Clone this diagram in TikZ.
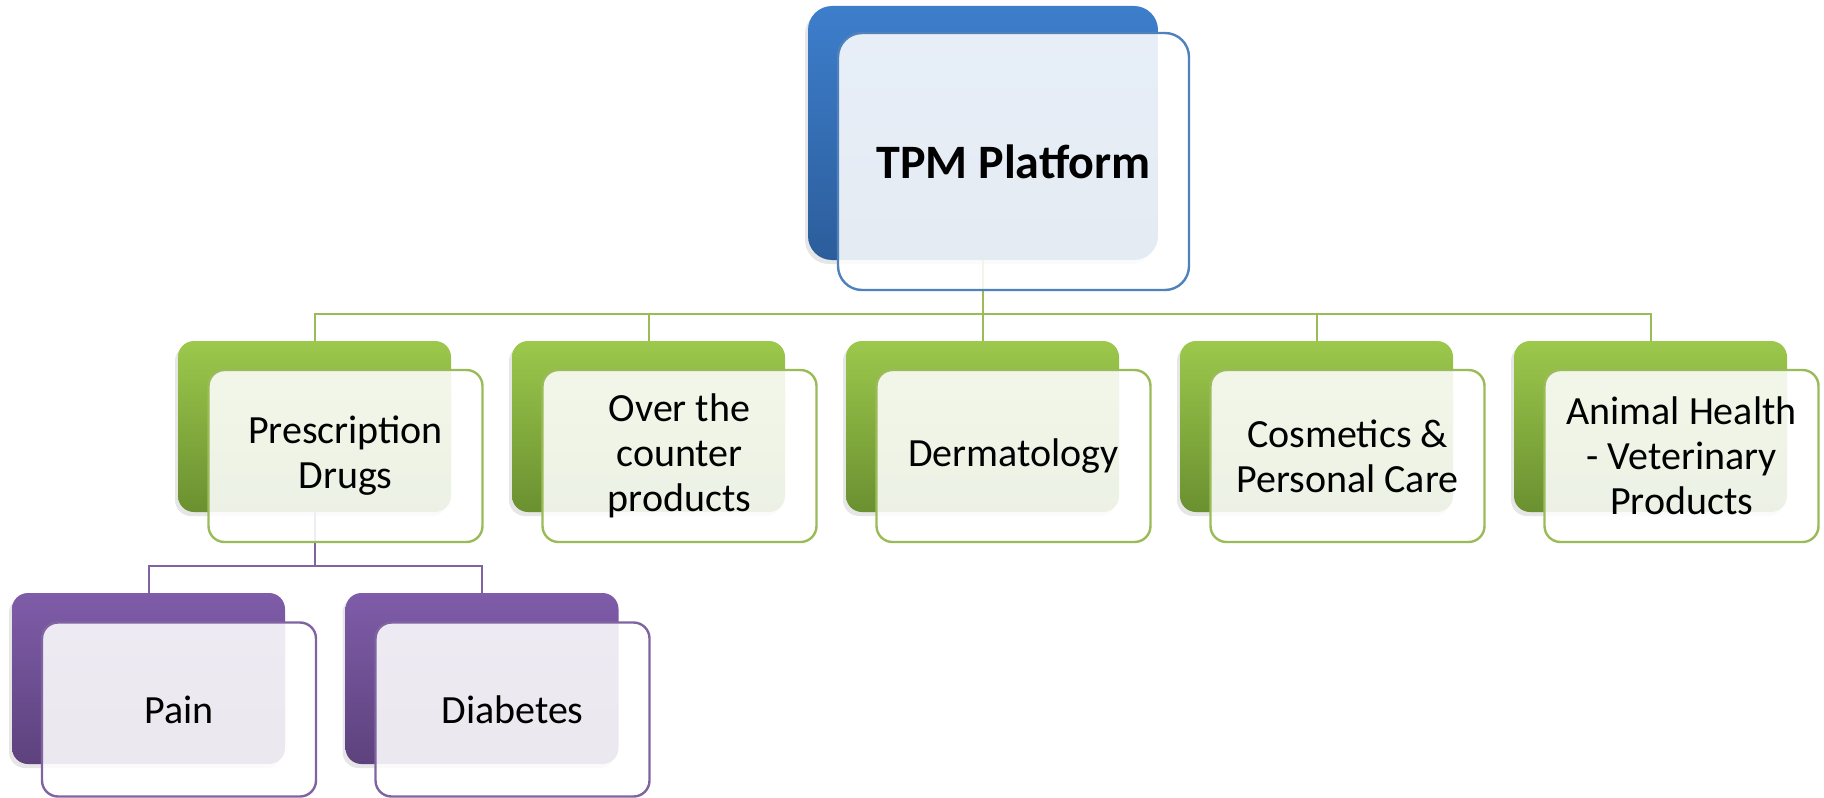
\documentclass[tikz,border=0pt]{standalone}
\usepackage{fontspec}
\setmainfont{Carlito}
\usetikzlibrary{shadows}

\definecolor{tpmtop}{HTML}{3D7ECC}
\definecolor{tpmbot}{HTML}{2C5D9B}
\definecolor{tpmline}{HTML}{4F81BD}
\definecolor{cattop}{HTML}{9CC84C}
\definecolor{catbot}{HTML}{6A9030}
\definecolor{catline}{HTML}{9BBB59}
\definecolor{subtop}{HTML}{7F5CA9}
\definecolor{subbot}{HTML}{5D427D}
\definecolor{subline}{HTML}{8064A2}

\tikzset{
	backbox/.style={rounded corners=8pt, inner sep=0pt,
		minimum width=136.5pt, minimum height=85.5pt,
		drop shadow={shadow xshift=-1.5pt, shadow yshift=-2pt, opacity=0.2}},
	frontbox/.style={rounded corners=8pt, draw, line width=1.2pt,
		fill=white, fill opacity=0.88, text opacity=1,
		minimum width=137pt, minimum height=86pt, align=center,
		font=\fontsize{20}{22.5}\selectfont},
	topback/.style={backbox, rounded corners=12pt,
		minimum width=175pt, minimum height=127pt,
		top color=tpmtop, bottom color=tpmbot},
	topfront/.style={frontbox, rounded corners=12pt, draw=tpmline,
		minimum width=175.5pt, minimum height=128.5pt,
		font=\fontsize{24}{29}\selectfont\bfseries},
	catback/.style={backbox, top color=cattop, bottom color=catbot},
	catfront/.style={frontbox, draw=catline},
	subback/.style={backbox, top color=subtop, bottom color=subbot},
	subfront/.style={frontbox, draw=subline, minimum height=87pt},
	catlink/.style={draw=catline, line width=1pt},
	sublink/.style={draw=subline, line width=1pt}
}

\begin{document}
\begin{tikzpicture}[x=0.5pt,y=-0.5pt]

\useasboundingbox (0,0) rectangle (1824,797);

% back boxes
\node[topback] (tpmback) at (983,133) {};
\foreach \i in {1,...,5}
{
	\node[catback] (catback\i) at ({314.5+334*(\i-1)},426.5) {};
}
\node[subback] (subback1) at (148.5,678.5) {};
\node[subback] (subback2) at (482,678.5) {};

% links
\coordinate (catbus) at (983,314);
\foreach \i in {1,...,5}
{
	\draw[catlink] (tpmback.south) -- (catbus) -| (catback\i.north);
}
\coordinate (subbus) at (314.5,566);
\foreach \i in {1,2}
{
	\draw[sublink] (catback1.south) -- (subbus) -| (subback\i.north);
}

% front boxes
\node[topfront] (tpm) at (1013.5,161.5) {TPM Platform};
\foreach \txt [count=\i] in {{Prescription\\Drugs},{Over the\\counter\\products},
	{Dermatology},{Cosmetics \&\\Personal Care},{Animal Health\\- Veterinary\\Products}}
{
	\node[catfront] (cat\i) at ({345.5+334*(\i-1)},456) {\txt};
}
\node[subfront] (pain) at (179,709.5) {Pain};
\node[subfront] (diabetes) at (512.5,709.5) {Diabetes};

\end{tikzpicture}
\end{document}
